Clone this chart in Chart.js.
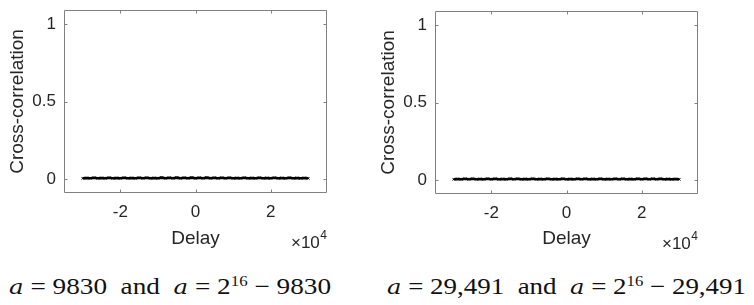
<!DOCTYPE html>
<html>
<head>
<meta charset="utf-8">
<script src="https://cdn.jsdelivr.net/npm/chart.js@4.4.0/dist/chart.umd.min.js"></script>
<style>
  html, body { margin: 0; padding: 0; background: #fff; }
  body { width: 754px; height: 305px; position: relative; overflow: hidden; }
  .box { position: absolute; top: 0; width: 377px; height: 252px; }
  .cap { position: absolute; top: 274px; white-space: nowrap; font-family: "Liberation Serif", "DejaVu Serif", serif; font-size: 23px; color: #111; }
  .cap i { font-family: "DejaVu Serif", serif; font-style: italic; font-size: 0.9em; }
  .cap sup { font-size: 0.62em; vertical-align: 0; position: relative; top: -0.55em; }
</style>
</head>
<body>
<div class="box" style="left:0"><canvas id="c1"></canvas></div>
<div class="box" style="left:377px"><canvas id="c2"></canvas></div>
<div class="cap" id="cap1"></div>
<div class="cap" id="cap2"></div>
<script>
// ---- data ----
const lags = [-30000,-29000,-28000,-27000,-26000,-25000,-24000,-23000,-22000,-21000,
  -20000,-19000,-18000,-17000,-16000,-15000,-14000,-13000,-12000,-11000,
  -10000,-9000,-8000,-7000,-6000,-5000,-4000,-3000,-2000,-1000,
  0,1000,2000,3000,4000,5000,6000,7000,8000,9000,
  10000,11000,12000,13000,14000,15000,16000,17000,18000,19000,
  20000,21000,22000,23000,24000,25000,26000,27000,28000,29000,30000];
const corrA = [0.005,0.007,0.005,0.008,0.005,0.007,0.005,0.008,0.005,0.007,
  0.005,0.008,0.005,0.007,0.005,0.008,0.005,0.008,0.005,0.007,
  0.005,0.009,0.005,0.008,0.005,0.009,0.005,0.008,0.005,0.009,
  0.005,0.008,0.005,0.009,0.005,0.008,0.005,0.008,0.005,0.008,
  0.005,0.007,0.005,0.008,0.005,0.007,0.005,0.008,0.005,0.007,
  0.005,0.008,0.005,0.007,0.005,0.008,0.005,0.007,0.005,0.007,0.005];
const corrB = [0.005,0.007,0.005,0.008,0.005,0.008,0.005,0.007,0.005,0.008,
  0.005,0.008,0.005,0.007,0.005,0.008,0.005,0.008,0.005,0.007,
  0.005,0.008,0.005,0.007,0.005,0.008,0.005,0.007,0.005,0.008,
  0.005,0.007,0.005,0.008,0.005,0.008,0.005,0.007,0.005,0.008,
  0.005,0.007,0.005,0.008,0.005,0.008,0.005,0.007,0.005,0.008,
  0.005,0.008,0.005,0.008,0.005,0.008,0.005,0.007,0.005,0.007,0.005];
const xTicks = [-20000, 0, 20000];
const yTicks = [0, 0.5, 1];
const xRange = [-35000, 35000];
const yRange = [-0.09, 1.09];
const yTitle = "Cross-correlation";
const xTitle = "Delay";
const captions = [
  ["9830", "9830"],
  ["29,491", "29,491"]
];

// ---- rendering ----
const TXT = "#262626";
const BOX = "#808080";
const FAM = "'Liberation Sans', Arial, sans-serif";

const framePlugin = {
  id: "frame",
  afterDatasetsDraw(chart) {
    const {ctx, chartArea: a, scales: {x, y}} = chart;
    ctx.save();
    ctx.strokeStyle = BOX;
    ctx.lineWidth = 1;
    ctx.beginPath();
    const L = Math.round(a.left) + 0.5, R = Math.round(a.right) - 0.5;
    const T = Math.round(a.top) + 0.5, B = Math.round(a.bottom) - 0.5;
    ctx.rect(L, T, R - L, B - T);
    const tl = 3;
    xTicks.forEach(v => {
      const px = Math.round(x.getPixelForValue(v)) + 0.5;
      ctx.moveTo(px, B); ctx.lineTo(px, B - tl);
      ctx.moveTo(px, T); ctx.lineTo(px, T + tl);
    });
    yTicks.forEach(v => {
      const py = Math.round(y.getPixelForValue(v)) + 0.5;
      ctx.moveTo(L, py); ctx.lineTo(L + tl, py);
      ctx.moveTo(R, py); ctx.lineTo(R - tl, py);
    });
    ctx.stroke();
    // exponent label
    ctx.fillStyle = TXT;
    ctx.textBaseline = "alphabetic";
    ctx.textAlign = "right";
    ctx.font = "12px " + FAM;
    const sw = ctx.measureText("4").width;
    ctx.fillText("4", a.right, a.bottom + 46);
    ctx.font = "17px " + FAM;
    ctx.fillText("\u00d710", a.right - sw - 0.5, a.bottom + 55);
    ctx.restore();
  }
};

function makeChart(id, data, geom) {
  return new Chart(document.getElementById(id), {
    type: "line",
    data: {
      labels: lags,
      datasets: [{
        data: lags.map((l, i) => ({x: l, y: data[i]})),
        borderColor: "#000",
        backgroundColor: "#000",
        borderWidth: 2.6,
        pointStyle: "crossRot",
        pointRadius: 1.8,
        pointBorderWidth: 1,
        tension: 0
      }]
    },
    options: {
      responsive: true,
      maintainAspectRatio: false,
      animation: false,
      events: [],
      layout: { padding: { left: geom.padLeft, right: geom.padRight, top: geom.padTop, bottom: 0 } },
      plugins: { legend: { display: false }, tooltip: { enabled: false } },
      scales: {
        x: {
          type: "linear",
          min: xRange[0], max: xRange[1],
          afterFit(s) { s.height = geom.xAxisH; s.paddingLeft = 0; s.paddingRight = 0; },
          afterBuildTicks(s) { s.ticks = xTicks.map(v => ({value: v})); },
          grid: { display: false, drawTicks: false },
          border: { display: false },
          ticks: {
            padding: geom.xTickPad,
            color: TXT,
            maxRotation: 0,
            font: { family: FAM, size: 17 },
            callback: v => String(v / 10000)
          },
          title: {
            display: true, text: xTitle, color: TXT,
            font: { family: FAM, size: 19 },
            padding: { top: 0, bottom: geom.xTitlePad }
          }
        },
        y: {
          type: "linear",
          min: yRange[0], max: yRange[1],
          afterFit(s) { s.width = geom.yAxisW; s.paddingTop = 0; s.paddingBottom = 0; },
          afterBuildTicks(s) { s.ticks = yTicks.map(v => ({value: v})); },
          grid: { display: false, drawTicks: false },
          border: { display: false },
          ticks: {
            padding: geom.yTickPad,
            color: TXT,
            font: { family: FAM, size: 17 },
            callback: v => String(v)
          },
          title: {
            display: true, text: yTitle, color: TXT,
            font: { family: FAM, size: 19 },
            padding: { top: geom.yTitlePad, bottom: 0 }
          }
        }
      }
    },
    plugins: [framePlugin]
  });
}

makeChart("c1", corrA, { padLeft: 0, padRight: 50, padTop: 10, xAxisH: 59, xTickPad: 9, xTitlePad: 2, yAxisW: 64, yTickPad: 8, yTitlePad: 6 });
makeChart("c2", corrB, { padLeft: 0, padRight: 56, padTop: 11, xAxisH: 58, xTickPad: 9, xTitlePad: 2, yAxisW: 58, yTickPad: 8, yTitlePad: 0 });

function fillCap(el, c, left, width) {
  el.innerHTML = '<i>a</i> = ' + c[0] + '&ensp;and&ensp;<i>a</i> = 2<sup>16</sup> \u2212 ' + c[1];
  el.style.left = left + "px";
  const w = el.getBoundingClientRect().width;
  el.style.transformOrigin = "0 0";
  el.style.transform = "scaleX(" + (width / w) + ")";
}
fillCap(document.getElementById("cap1"), captions[0], 9, 322);
fillCap(document.getElementById("cap2"), captions[1], 387, 359);
</script>
</body>
</html>
